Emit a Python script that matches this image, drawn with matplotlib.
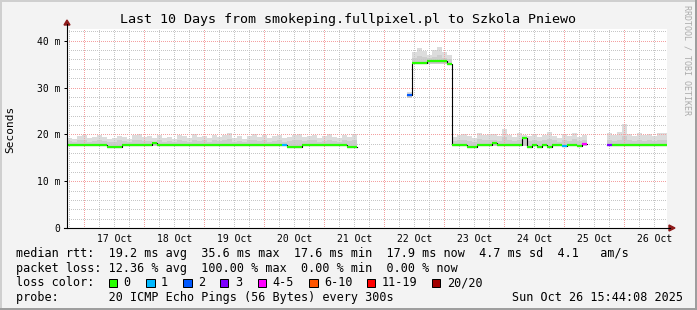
import numpy as np
import matplotlib.pyplot as plt
from matplotlib.patches import Rectangle, Polygon
from matplotlib.lines import Line2D

plt.rcParams['font.family'] = 'DejaVu Sans Mono'

# time axis: days since 17 Oct 00:00, one bin = 2 hours
t_start = -0.288
bin_w = 1 / 12
day_labels = ['17 Oct', '18 Oct', '19 Oct', '20 Oct', '21 Oct',
              '22 Oct', '23 Oct', '24 Oct', '25 Oct', '26 Oct']
y_ticks = [0, 10, 20, 30, 40]
y_labels = ['0', '10 m', '20 m', '30 m', '40 m']

nan = np.nan
median = [17.8, 17.8, 17.8, 17.8, 17.8, 17.8, 17.8, 17.8, 17.4, 17.4,
          17.4, 17.8, 17.8, 17.8, 17.8, 17.8, 17.8, 18.2, 17.8, 17.8,
          17.8, 17.8, 17.8, 17.8, 17.8, 17.8, 17.8, 17.8, 17.8, 17.8,
          17.8, 17.8, 17.8, 17.8, 17.8, 17.8, 17.8, 17.8, 17.8, 17.8,
          17.8, 17.8, 17.8, 17.8, 17.4, 17.4, 17.4, 17.8, 17.8, 17.8,
          17.8, 17.8, 17.8, 17.8, 17.8, 17.8, 17.4, 17.4] \
    + [nan] * 10 + [28.5] \
    + [35.3, 35.3, 35.3, 35.6, 35.6, 35.6, 35.6, 35.0] \
    + [17.8, 17.8, 17.8, 17.4, 17.4, 17.8, 17.8, 17.8, 18.1, 17.8,
       17.8, 17.8, 17.8, 17.8, 19.3, 17.4, 17.8, 17.4, 17.8, 17.4,
       17.8, 17.8, 17.5, 17.8, 17.8, 17.5, 17.9] \
    + [nan] * 4 + [17.8] * 12

smoke_max = [19.3, 19.0, 19.6, 19.8, 19.2, 19.5, 19.9, 19.4, 19.0, 19.3,
             19.7, 19.5, 19.1, 19.8, 20.0, 19.4, 19.6, 19.3, 19.9, 19.2,
             19.5, 19.0, 19.8, 19.6, 19.3, 20.1, 19.4, 19.7, 19.2, 19.9,
             19.5, 19.8, 20.2, 19.3, 19.6, 19.0, 19.7, 20.0, 19.4, 19.8,
             19.3, 19.6, 19.9, 19.2, 19.5, 19.8, 20.1, 19.4, 19.7, 19.9,
             19.3, 19.6, 20.0, 19.5, 19.2, 19.8, 19.4, 20.0] \
    + [nan] * 10 + [29.0] \
    + [37.6, 38.5, 37.9, 37.0, 38.1, 38.6, 37.6, 36.9] \
    + [19.5, 19.8, 20.0, 19.6, 19.2, 20.3, 19.8, 20.1, 20.0, 19.6,
       21.1, 19.9, 19.5, 20.2, 19.8, 19.6, 20.1, 19.4, 19.9, 20.5,
       19.7, 19.3, 20.0, 19.6, 20.3, 19.5, 19.8] \
    + [nan] * 4 \
    + [20.2, 19.8, 20.4, 22.2, 20.0, 19.7, 20.3, 19.9, 20.1, 19.6, 20.2, 20.3]

smoke_mid = [18.5, 18.3, 18.7, 18.9, 18.4, 18.6, 18.8, 18.5, 18.3, 18.4,
             18.7, 18.6, 18.3, 18.8, 18.9, 18.5, 18.6, 18.4, 18.8, 18.3,
             18.6, 18.3, 18.7, 18.6, 18.4, 18.9, 18.5, 18.7, 18.3, 18.8,
             18.6, 18.7, 19.0, 18.4, 18.6, 18.3, 18.7, 18.9, 18.5, 18.8,
             18.4, 18.6, 18.8, 18.3, 18.5, 18.7, 18.9, 18.5, 18.7, 18.8,
             18.4, 18.6, 18.9, 18.5, 18.3, 18.7, 18.5, 18.9] \
    + [nan] * 10 + [28.7] \
    + [36.4, 36.8, 36.5, 36.2, 36.6, 36.9, 36.4, 36.0] \
    + [18.6, 18.8, 18.9, 18.6, 18.4, 19.0, 18.7, 18.9, 18.8, 18.6,
       19.4, 18.8, 18.5, 18.9, 18.7, 18.6, 18.9, 18.5, 18.8, 19.1,
       18.7, 18.4, 18.8, 18.6, 19.0, 18.5, 18.7] \
    + [nan] * 4 \
    + [18.8, 18.6, 18.9, 19.6, 18.7, 18.5, 18.9, 18.6, 18.8, 18.5, 18.8, 18.9]

smoke_min = [17.5] * 58 + [nan] * 10 + [27.7] + [35.0] * 8 + [17.5] * 27 \
    + [nan] * 4 + [17.5] * 12

# lost pings (of 20) per bin
loss = [0] * 43 + [1] + [0] * 14 + [0] * 10 + [2] + [0] * 8 \
    + [0] * 22 + [1] + [0] * 3 + [4] + [0] * 4 + [3] + [0] * 11

loss_names = ['0', '1', '2', '3', '4-5', '6-10', '11-19', '20/20']
loss_colors = ['#26ff00', '#00b8ff', '#0059ff', '#7e00ff',
               '#ff00ff', '#ff5500', '#ff0000', '#a10000']


def loss_class(n):
    if n <= 3:
        return n
    if n <= 5:
        return 4
    if n <= 10:
        return 5
    if n <= 19:
        return 6
    return 7


W, H = 697, 310
fig = plt.figure(figsize=(W / 100, H / 100), dpi=100, facecolor='#f3f3f3')


def fx(x):
    return x / W


def fy(y):
    return 1 - y / H


ax = fig.add_axes([fx(67), fy(228), 600 / W, 199 / H])
ax.set_facecolor('white')
ax.set_xlim(-0.288, 9.712)
ax.set_ylim(0, 42.5)
for s in ax.spines.values():
    s.set_visible(False)

# grid, crisp 1px dots like rrdtool
gkw = dict(lw=0.72, dashes=(1, 1.4), zorder=2, antialiased=False)
for k in range(-1, 39):
    if k % 4 == 0:
        continue
    ax.axvline(k * 0.25, color='#c6c6c6', **gkw)
for v in range(2, 43, 2):
    if v % 10 == 0:
        continue
    ax.axhline(v, color='#c6c6c6', **gkw)
for d in range(10):
    ax.axvline(d, color='#f4a0a0', **gkw)
for v in y_ticks[1:]:
    ax.axhline(v, color='#f4a0a0', **gkw)

median = np.array(median)
smoke_max = np.array(smoke_max)
smoke_mid = np.array(smoke_mid)
smoke_min = np.array(smoke_min)
t = t_start + np.arange(len(median)) * bin_w
ok = ~np.isnan(median)

# smoke
ax.bar(t[ok], smoke_max[ok] - smoke_min[ok], bottom=smoke_min[ok], width=bin_w,
       align='edge', color='#dcdcdc', lw=0, zorder=1)
ax.bar(t[ok], smoke_mid[ok] - smoke_min[ok], bottom=smoke_min[ok], width=bin_w,
       align='edge', color='#cdcdcd', lw=0, zorder=1)

# median
ax.step(np.append(t, t[-1] + bin_w), np.append(median, median[-1]), where='post',
        color='black', lw=0.8, zorder=3)
cols = [loss_colors[loss_class(n)] for n, g in zip(loss, ok) if g]
ax.hlines(median[ok], t[ok], t[ok] + bin_w, colors=cols, lw=1.6, zorder=4)

ax.set_yticks(y_ticks)
ax.set_yticklabels(y_labels)
ax.set_xticks(np.arange(10) + 0.5)
ax.set_xticklabels(day_labels)
ax.tick_params(axis='y', length=2, width=0.72, pad=3, labelsize=7)
ax.tick_params(axis='x', length=0, pad=4, labelsize=7)

# axes with arrows
arrow_c = '#8e1b1b'
fig.add_artist(Line2D([fx(67), fx(67)], [fy(228), fy(24)], color='black', lw=0.8))
fig.add_artist(Line2D([fx(64), fx(670)], [fy(228), fy(228)], color='black', lw=0.8))
fig.add_artist(Polygon([(fx(64), fy(25)), (fx(70), fy(25)), (fx(67), fy(20))],
                       closed=True, color=arrow_c))
fig.add_artist(Polygon([(fx(669), fy(225)), (fx(669), fy(231)), (fx(675), fy(228))],
                       closed=True, color=arrow_c))

# texts
fig.text(fx(348.5), fy(19), 'Last 10 Days from smokeping.fullpixel.pl to Szkola Pniewo',
         ha='center', va='center', fontsize=9.6)
fig.text(fx(10.5), fy(129), 'Seconds', rotation=90, ha='center', va='center', fontsize=8)
fig.text(fx(687), fy(5), 'RRDTOOL / TOBI OETIKER', rotation=270, ha='center', va='top',
         fontsize=6, color='#ababab')

rows = [
    'median rtt:  19.2 ms avg  35.6 ms max  17.6 ms min  17.9 ms now  4.7 ms sd  4.1   am/s',
    'packet loss: 12.36 % avg  100.00 % max  0.00 % min  0.00 % now',
    'loss color:',
    'probe:       20 ICMP Echo Pings (56 Bytes) every 300s',
]
row_y = [254, 268.5, 283, 297.5]
for txt, y in zip(rows, row_y):
    fig.text(fx(16), fy(y), txt, ha='left', va='center', fontsize=8.5)
fig.text(fx(683), fy(row_y[3]), 'Sun Oct 26 15:44:08 2025', ha='right', va='center',
         fontsize=8.5)

box_x = [108.5, 146, 183, 220, 257.5, 309, 367, 432]
for bx, c, name in zip(box_x, loss_colors, loss_names):
    fig.add_artist(Rectangle((fx(bx), fy(row_y[2] + 4)), 8.5 / W, 8 / H,
                             facecolor=c, edgecolor='black', lw=0.72))
    fig.text(fx(bx + 15), fy(row_y[2]), name, ha='left', va='center', fontsize=8.5)

# 3d frame
fig.add_artist(Rectangle((0, fy(2)), 1, 2 / H, color='#cfcfcf', lw=0))
fig.add_artist(Rectangle((0, 0), 2 / W, 1, color='#cfcfcf', lw=0))
fig.add_artist(Rectangle((0, 0), 1, 2 / H, color='#9e9e9e', lw=0))
fig.add_artist(Rectangle((fx(695), 0), 2 / W, 1, color='#9e9e9e', lw=0))

fig.savefig('out.png', dpi=100, facecolor=fig.get_facecolor())
